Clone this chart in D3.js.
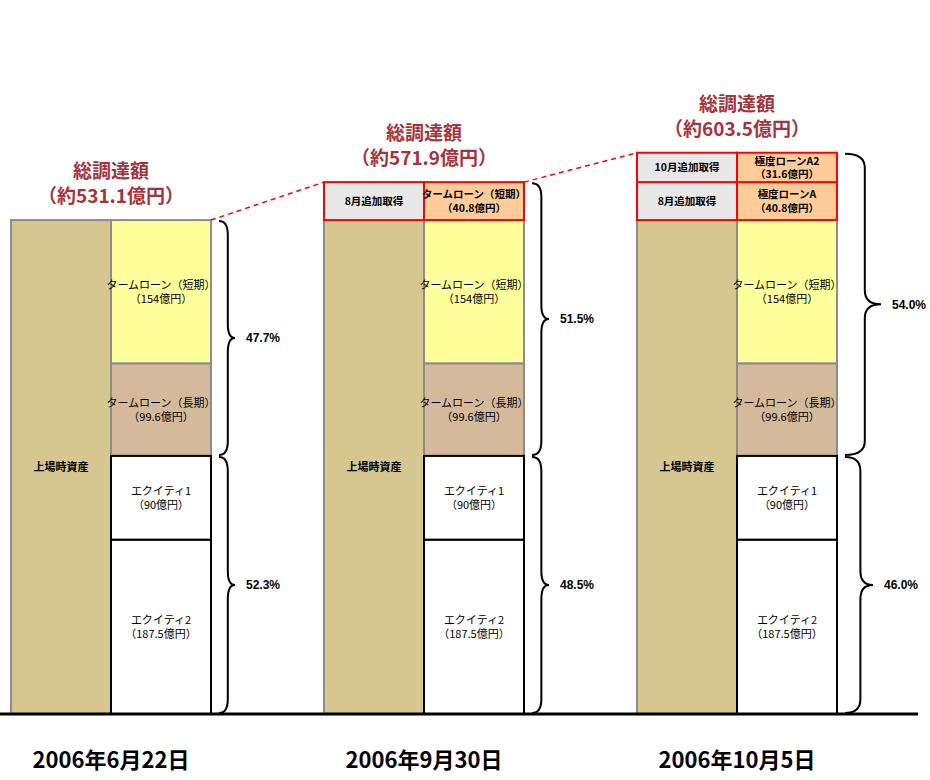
<!DOCTYPE html>
<html><head><meta charset="utf-8">
<script src="https://cdn.jsdelivr.net/npm/d3@7"></script>
<style>body{margin:0;background:#fff}svg{display:block}</style>
</head><body>
<div id="chart"></div>
<script>
// ---- data ----
const dates = ["2006年6月22日", "2006年9月30日", "2006年10月5日"];
const baseNames = ["エクイティ2", "エクイティ1", "タームローン（長期）", "タームローン（短期）"];
const baseValues = [187.5, 90, 99.6, 154];
const baseKinds = ["equity", "equity", "long", "short"];
const baseLabel = "上場時資産";
const addLeftNames = ["8月追加取得", "10月追加取得"];
const addRightNamesG2 = ["タームローン（短期）"];
const addRightNamesG3 = ["極度ローンA", "極度ローンA2"];
const addValuesG2 = [40.8];
const addValuesG3 = [40.8, 31.6];
const titleText = "総調達額";

// ---- layout ----
const W = 930, H = 780;
const svg = d3.select("#chart").append("svg").attr("width", W).attr("height", H);
const baselineY = 714;
const k = 0.93;
const additions = [
  [],
  addValuesG2.map((v, i) => ({left: addLeftNames[i], right: addRightNamesG2[i], value: v})),
  addValuesG3.map((v, i) => ({left: addLeftNames[i], right: addRightNamesG3[i], value: v}))
];
const baseTotal = d3.sum(baseValues);
const totals = additions.map(a => baseTotal + d3.sum(a, d => d.value));
const maxTotal = d3.max(totals);

const x = d3.scaleBand().domain(dates).range([11, 837]).paddingInner(0.361).paddingOuter(0);
const sub = d3.scaleBand().domain(["L", "R"]).range([0, x.bandwidth()]);
const y = d3.scaleLinear().domain([0, maxTotal]).range([baselineY, baselineY - maxTotal * k]);

const fills = {equity: "#ffffff", long: "#d5b99b", short: "#ffff9c"};
const strokes = {equity: "#000000", long: "#8c8c8c", short: "#8c8c8c"};
const jp = "'Noto Sans CJK JP','Noto Sans',sans-serif";
const braceW = [16, 17, 36];

function brace(xs, y0, y1, w) {
  const ym = (y0 + y1) / 2, xv = xs + w * 0.55, r = Math.min(14, (y1 - y0) / 4);
  return `M${xs},${y0} Q${xv},${y0} ${xv},${y0 + r} L${xv},${ym - r} Q${xv},${ym} ${xs + w},${ym}`
    + ` Q${xv},${ym} ${xv},${ym + r} L${xv},${y1 - r} Q${xv},${y1} ${xs},${y1}`;
}

function twoLine(g, cx, cy, l1, l2, size, weight) {
  const t = g.append("text").attr("x", cx).attr("y", cy).attr("text-anchor", "middle")
    .attr("font-family", jp).attr("font-size", size).attr("font-weight", weight).attr("fill", "#000");
  t.append("tspan").attr("x", cx).attr("dy", "-0.25em").text(l1);
  t.append("tspan").attr("x", cx).attr("dy", "1.3em").text(l2);
}

const tops = [];
dates.forEach((d, gi) => {
  const g = svg.append("g");
  const x0 = x(d), xl = x0 + sub("L"), xr = x0 + sub("R"), cw = sub.bandwidth();
  // left base column
  g.append("rect").attr("x", xl).attr("y", y(baseTotal)).attr("width", cw)
    .attr("height", y(0) - y(baseTotal)).attr("fill", "#d5c78f").attr("stroke", "#8c8c8c").attr("stroke-width", 2);
  g.append("text").attr("x", xl + cw / 2).attr("y", (y(0) + y(baseTotal)) / 2).attr("dy", "0.35em")
    .attr("text-anchor", "middle").attr("font-family", jp).attr("font-size", 11).attr("font-weight", "bold")
    .text(baseLabel);
  // right stacked column
  let cum = 0;
  const segs = baseValues.map((v, i) => { const s = {v, y0: cum, y1: cum + v, name: baseNames[i], kind: baseKinds[i]}; cum += v; return s; });
  [...segs].sort((a, b) => (a.kind === "equity") - (b.kind === "equity")).forEach(s => {
    g.append("rect").attr("x", xr).attr("y", y(s.y1)).attr("width", cw).attr("height", y(s.y0) - y(s.y1))
      .attr("fill", fills[s.kind]).attr("stroke", strokes[s.kind]).attr("stroke-width", 2);
  });
  segs.forEach(s => {
    twoLine(g, xr + cw / 2, (y(s.y0) + y(s.y1)) / 2, s.name, "（" + s.v + "億円）", 11, "normal");
  });
  // additions (red boxes)
  additions[gi].forEach(a => {
    const y0 = cum, y1 = cum + a.value; cum = y1;
    g.append("rect").attr("x", xl).attr("y", y(y1)).attr("width", cw).attr("height", y(y0) - y(y1))
      .attr("fill", "#e8e8e8").attr("stroke", "#ff0000").attr("stroke-width", 2);
    g.append("rect").attr("x", xr).attr("y", y(y1)).attr("width", cw).attr("height", y(y0) - y(y1))
      .attr("fill", "#ffcc99").attr("stroke", "#ff0000").attr("stroke-width", 2);
    g.append("text").attr("x", xl + cw / 2).attr("y", (y(y0) + y(y1)) / 2).attr("dy", "0.35em")
      .attr("text-anchor", "middle").attr("font-family", jp).attr("font-size", 10.5).attr("font-weight", "bold")
      .text(a.left);
    twoLine(g, xr + cw / 2, (y(y0) + y(y1)) / 2, a.right, "（" + a.value + "億円）", 10.5, "bold");
  });
  const top = y(totals[gi]);
  tops.push({xl, xr: xr + cw, top});
  // title
  const cx = x0 + x.bandwidth() / 2;
  g.append("text").attr("x", cx).attr("y", top - 42).attr("text-anchor", "middle").attr("font-family", jp)
    .attr("font-size", 19).attr("font-weight", "bold").attr("fill", "#a5343a").text(titleText);
  g.append("text").attr("x", cx).attr("y", top - 17).attr("text-anchor", "middle").attr("font-family", jp)
    .attr("font-size", 19).attr("font-weight", "bold").attr("fill", "#a5343a")
    .text("（約" + totals[gi].toFixed(1) + "億円）");
  // braces
  const eqTotal = baseValues[0] + baseValues[1];
  const bx = xr + cw + 8;
  const parts = [[eqTotal, totals[gi]], [0, eqTotal]];
  parts.forEach(([v0, v1], pi) => {
    const w = pi === 0 ? braceW[gi] : Math.min(braceW[gi], 28);
    g.append("path").attr("d", brace(bx, y(v1) + 1, y(v0) - 1, w))
      .attr("fill", "none").attr("stroke", "#000").attr("stroke-width", 2);
    g.append("text").attr("x", bx + w + 11).attr("y", (y(v0) + y(v1)) / 2).attr("dy", "0.35em")
      .attr("font-family", "'Liberation Sans',Arial,sans-serif").attr("font-size", 12).attr("font-weight", "bold")
      .text(((v1 - v0) / totals[gi] * 100).toFixed(1) + "%");
  });
  // date label
  g.append("text").attr("x", cx).attr("y", 768).attr("text-anchor", "middle").attr("font-family", jp)
    .attr("font-size", 22).attr("font-weight", "bold").attr("fill", "#000").text(d);
});

// dashed connectors
for (let i = 0; i < tops.length - 1; i++) {
  svg.append("line").attr("x1", tops[i].xr).attr("y1", tops[i].top).attr("x2", tops[i + 1].xl).attr("y2", tops[i + 1].top)
    .attr("stroke", "#ff0000").attr("stroke-width", 1.5).attr("stroke-dasharray", "5,4");
}

// baseline
svg.append("line").attr("x1", 0).attr("x2", 918).attr("y1", y(0)).attr("y2", y(0))
  .attr("stroke", "#000").attr("stroke-width", 3);
</script>
</body></html>
